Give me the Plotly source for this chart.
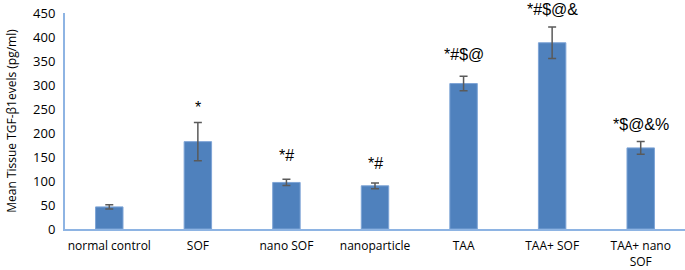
import plotly.graph_objects as go

categories = ["normal control", "SOF", "nano SOF", "nanoparticle", "TAA", "TAA+ SOF", "TAA+ nano<br>SOF"]
values = [46, 182, 97, 90, 303, 388, 169]
errors = [4.5, 40, 6.5, 6, 15, 33, 13.5]
labels = ["", "*", "*#", "*#", "*#$@", "*#$@&", "*$@&%"]
label_shift = [0, 4, 13, 9, 11, 7, 6]

fig = go.Figure()
fig.add_trace(go.Bar(
    x=categories, y=values,
    width=0.31,
    marker=dict(color="#4f81bd", line=dict(color="#7ea4d6", width=1)),
    error_y=dict(type="data", array=errors, visible=True, color="#5a5a5a", thickness=1.5, width=4),
))

for c, v, e, t, s in zip(categories, values, errors, labels, label_shift):
    if t:
        fig.add_annotation(x=c, y=v + e, text=t, showarrow=False, yanchor="bottom",
                           yshift=s, font=dict(size=16, color="#000000", family="Liberation Sans"))

fig.update_layout(
    width=685, height=270,
    margin=dict(l=65, r=0, t=13, b=41),
    plot_bgcolor="white", paper_bgcolor="white",
    showlegend=False,
    font=dict(family="Open Sans", size=12, color="#000000"),
    bargap=0.69,
)
fig.update_xaxes(showline=True, linecolor="#8eb4e3", linewidth=2, ticks="", showgrid=False,
                 automargin=False, ticklabelstandoff=5,
                 tickfont=dict(size=12, family="Open Sans", color="#000000"))
fig.update_yaxes(range=[0, 450], dtick=50, showline=True, linecolor="#8eb4e3", linewidth=2,
                 showgrid=False, zeroline=False, ticks="", automargin=False, ticklabelstandoff=5,
                 tickfont=dict(size=13, family="Open Sans", color="#000000"),
                 title=dict(text="Mean Tissue TGF-β1evels (pg/ml)", font=dict(size=12, family="Open Sans"), standoff=14))

fig.write_html("out.html", config={"displayModeBar": False},
               post_script="document.body.style.margin='0';")
